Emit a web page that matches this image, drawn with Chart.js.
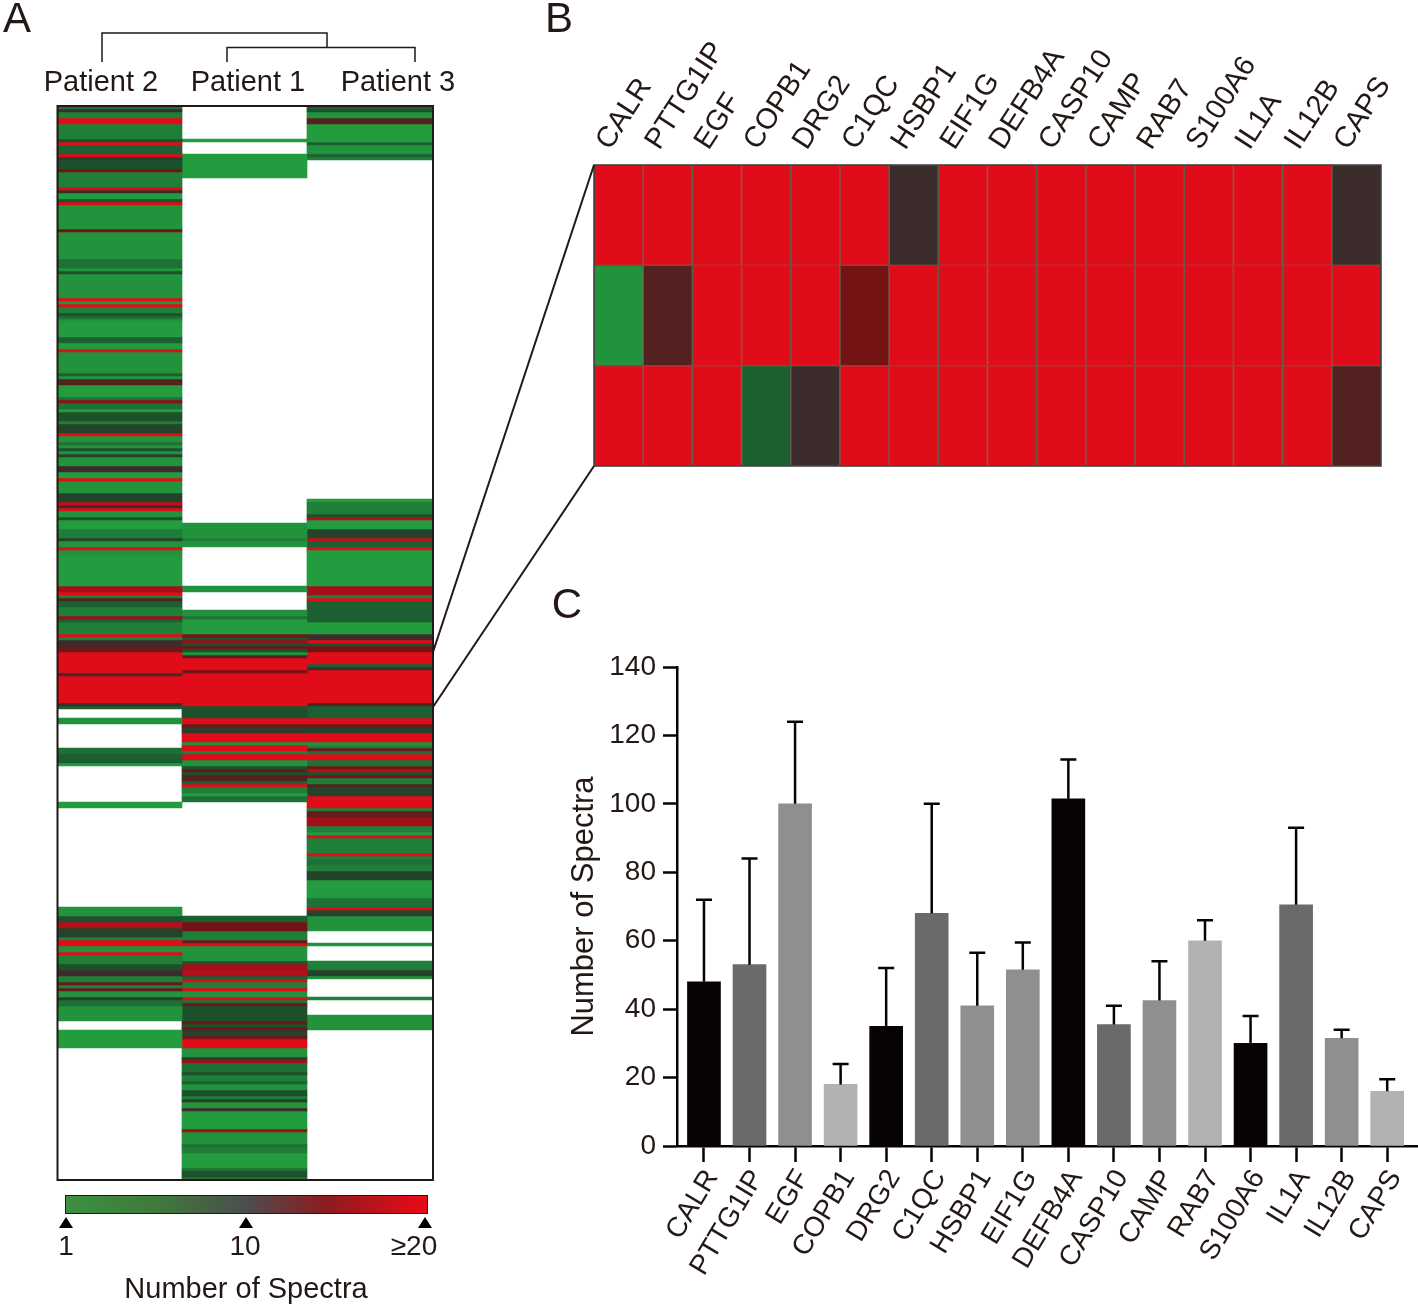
<!DOCTYPE html>
<html>
<head>
<meta charset="utf-8">
<title>Number of Spectra</title>
<script src="https://cdn.jsdelivr.net/npm/chart.js@4"></script>
<style>
  html, body { margin: 0; background: #fff; }
  #page { position: relative; width: 1418px; height: 1306px; overflow: hidden; font-family: "Liberation Sans", Arial, sans-serif; color: #231815; }
  canvas { position: absolute; }
  svg { position: absolute; left: 0; top: 0; pointer-events: none; }
  .txt { position: absolute; white-space: nowrap; transform: translate(-50%, -50%); font-size: 28px; line-height: 1; }
  .letra { font-size: 42px; }
  #barra { position: absolute; left: 65px; top: 1195px; width: 361px; height: 17px; border: 1.5px solid #231815;
    background: linear-gradient(to right, #3c9040, #3f7a3c 25%, #4d4d4d 50%, #8c1c1f 72%, #e30b17 97%, #e30b17); }
</style>
</head>
<body>
<div id="page">
  <canvas id="graficoA" width="375" height="1074" style="left:57px;top:106px"></canvas>
  <canvas id="graficoB" width="858" height="470" style="left:560px;top:0"></canvas>
  <canvas id="graficoC" width="858" height="666" style="left:560px;top:640px"></canvas>

  <svg width="1418" height="1306">
    <g fill="none" stroke="#231815" stroke-width="1.5">
      <polyline points="102,62 102,33 327,33 327,47.5"/>
      <polyline points="227,62 227,47.5 415,47.5 415,62"/>
    </g>
    <rect x="57.5" y="106" width="375.5" height="1074" fill="none" stroke="#231815" stroke-width="2"/>
    <rect x="594" y="165" width="787" height="301" fill="none" stroke="#3a3a3a" stroke-width="1.5"/>
    <g stroke="#231815" stroke-width="2">
      <line x1="433" y1="652" x2="594" y2="165"/>
      <line x1="433" y1="707" x2="594" y2="466"/>
    </g>
    <g fill="#000">
      <polygon points="66,1217 59,1228 73,1228"/>
      <polygon points="246,1217 239,1228 253,1228"/>
      <polygon points="425,1217 418,1228 432,1228"/>
    </g>
  </svg>

  <div class="txt letra" style="left:17px;top:18px">A</div>
  <div class="txt letra" style="left:559px;top:18px">B</div>
  <div class="txt letra" style="left:567px;top:604px">C</div>
  <div class="txt" style="left:101px;top:81px;font-size:29px">Patient 2</div>
  <div class="txt" style="left:248px;top:81px;font-size:29px">Patient 1</div>
  <div class="txt" style="left:398px;top:81px;font-size:29px">Patient 3</div>

  <div id="barra"></div>
  <div class="txt" style="left:66px;top:1246px">1</div>
  <div class="txt" style="left:245px;top:1246px">10</div>
  <div class="txt" style="left:414px;top:1246px">≥20</div>
  <div class="txt" style="left:246px;top:1288px;font-size:29px">Number of Spectra</div>
</div>

<script>
const pacientes = ['Patient 2', 'Patient 1', 'Patient 3']
const genes = ['CALR', 'PTTG1IP', 'EGF', 'COPB1', 'DRG2', 'C1QC', 'HSBP1', 'EIF1G', 'DEFB4A', 'CASP10', 'CAMP', 'RAB7', 'S100A6', 'IL1A', 'IL12B', 'CAPS']

// painel A: cada par e [espectros, numero de linhas seguidas]; 0 = sem deteccao
const totalLinhas = 358
const runsPaciente2 = [[4,1],[9,1],[3,2],[20,2],[3,5],[6,1],[20,1],[5,3],[20,1],[8,1],[6,3],[12,1],[3,5],[20,1],[9,1],[1,2],[6,1],[20,1],[2,8],[12,1],
  [2,9],[4,3],[2,1],[6,1],[2,8],[20,1],[2,1],[20,1],[3,2],[6,1],[4,1],[2,1],[1,5],[5,2],[1,2],[20,1],[2,7],[5,1],[2,1],[10,2],
  [1,4],[4,1],[14,1],[4,2],[1,1],[6,3],[3,1],[7,3],[20,1],[2,2],[4,1],[2,1],[6,1],[2,1],[7,1],[2,3],[9,2],[1,2],[20,1],[2,4],
  [7,3],[18,1],[9,1],[20,1],[2,2],[6,1],[1,3],[3,3],[7,1],[2,2],[20,1],[2,2],[1,10],[16,2],[20,1],[3,1],[10,1],[5,2],[3,3],[15,1],
  [5,1],[3,4],[20,1],[3,1],[9,2],[11,2],[20,7],[9,1],[20,9],[9,1],[5,1],[0,3],[2,2],[0,8],[4,2],[5,3],[1,1],[0,12],[1,2],[0,33],
  [2,3],[6,2],[17,2],[7,3],[3,1],[20,2],[2,2],[20,1],[3,3],[6,2],[9,2],[3,2],[11,1],[3,1],[11,1],[2,2],[8,1],[4,2],[2,5],[0,3],[1,6],[0,44]]
const runsPaciente1 = [[0,11],[1,1],[0,4],[1,8],[0,115],[2,5],[3,1],[2,2],[0,13],[2,2],[0,6],[2,2],[4,1],[1,5],[12,1],[6,1],[15,1],[6,1],[11,1],[6,1],
  [2,1],[10,1],[20,4],[12,1],[20,11],[6,4],[20,2],[11,1],[8,2],[20,3],[2,1],[20,2],[3,1],[20,2],[2,2],[6,1],[11,1],[6,1],[10,2],[5,1],
  [20,1],[3,2],[1,1],[4,2],[0,38],[5,2],[12,3],[3,3],[11,1],[20,1],[2,5],[6,1],[16,2],[17,2],[5,1],[20,1],[3,2],[20,1],[2,2],[20,1],
  [4,1],[11,1],[6,5],[11,1],[6,1],[12,1],[7,2],[13,1],[20,3],[2,3],[8,1],[16,1],[4,3],[6,1],[3,2],[5,1],[2,2],[6,2],[3,1],[8,1],
  [2,2],[9,1],[1,6],[15,1],[2,4],[4,1],[3,2],[1,5],[4,1],[6,2],[4,1]]
const runsPaciente3 = [[5,1],[6,1],[2,2],[10,2],[1,6],[5,1],[2,3],[5,1],[3,1],[0,113],[1,1],[3,4],[6,1],[17,1],[1,3],[7,3],[18,1],[5,2],[20,1],[1,12],
  [16,3],[3,1],[20,1],[5,7],[1,4],[9,2],[20,1],[6,1],[12,2],[20,4],[5,1],[9,1],[20,11],[10,1],[5,4],[20,2],[11,1],[7,2],[20,3],[2,1],
  [3,1],[11,1],[4,1],[20,2],[4,2],[12,1],[17,1],[6,1],[13,1],[3,2],[10,1],[7,3],[20,4],[3,1],[11,2],[16,3],[3,2],[1,1],[20,1],[3,5],
  [20,1],[3,1],[4,2],[3,2],[7,3],[1,6],[4,3],[20,1],[7,2],[2,5],[0,4],[2,1],[0,5],[3,3],[7,2],[2,1],[0,6],[3,1],[0,5],[2,5],[0,50]]

// painel B: uma lista por linha do mapa
const linhaB1 = [20, 20, 20, 20, 20, 20, 9, 20, 20, 20, 20, 20, 20, 20, 20, 9]
const linhaB2 = [2, 10, 20, 20, 20, 12, 20, 20, 20, 20, 20, 20, 20, 20, 20, 20]
const linhaB3 = [20, 20, 20, 5, 9, 20, 20, 20, 20, 20, 20, 20, 20, 20, 20, 10]

// painel C
const medias = [48, 53, 100, 18, 35, 68, 41, 51.5, 101.5, 35.5, 42.5, 60, 30, 70.5, 31.5, 16]
const topoErro = [72, 84, 124, 24, 52, 100, 56.5, 59.5, 113, 41, 54, 66, 38, 93, 34, 19.5]
const coresBarras = ['#070203', '#6a6a6a', '#8f8f8f', '#b2b2b2', '#070203', '#6a6a6a', '#8f8f8f', '#8f8f8f', '#070203', '#6a6a6a', '#8f8f8f', '#b2b2b2', '#070203', '#6a6a6a', '#8f8f8f', '#b2b2b2']

const paleta = [null, '#239b3f', '#22923d', '#1f7f39', '#1e7136', '#1c5f30', '#1d512c', '#24432a', '#2e3a2a', '#3c2d2c', '#522120',
  '#661a1b', '#741313', '#801114', '#8c1117', '#981119', '#a3101a', '#b40f1b', '#c40e1b', '#d20d1a', '#e10c19']

const corTexto = '#231815'
const fonteTicks = { family: '"Liberation Sans", Arial, sans-serif', size: 28 }
const fonteGenes = { family: '"Liberation Sans", Arial, sans-serif', size: 29 }
Chart.defaults.animation = false
Chart.defaults.responsive = false
Chart.defaults.plugins.legend.display = false
Chart.defaults.plugins.tooltip.enabled = false

function datasetsDoPaciente(runs, coluna) {
  const lista = []
  let inicio = 0
  runs.forEach(function(run) {
    const fim = inicio + run[1]
    if (run[0] > 0) {
      const valores = [null, null, null]
      valores[coluna] = [inicio, fim]
      lista.push({ data: valores, backgroundColor: paleta[run[0]], grouped: false, barPercentage: 1, categoryPercentage: 1, borderWidth: 0 })
    }
    inicio = fim
  })
  return lista
}

new Chart(document.getElementById('graficoA'), {
  type: 'bar',
  data: {
    labels: pacientes,
    datasets: [].concat(datasetsDoPaciente(runsPaciente2, 0), datasetsDoPaciente(runsPaciente1, 1), datasetsDoPaciente(runsPaciente3, 2))
  },
  options: {
    scales: {
      x: { display: false },
      y: { display: false, min: 0, max: totalLinhas, reverse: true }
    }
  }
})

function datasetDaLinha(niveis, linha) {
  return {
    data: niveis.map(function() { return [linha, linha + 1] }),
    backgroundColor: niveis.map(function(n) { return paleta[n] }),
    borderColor: 'rgba(70,70,45,0.8)',
    borderWidth: 1,
    borderSkipped: false,
    grouped: false,
    barPercentage: 1,
    categoryPercentage: 1
  }
}

new Chart(document.getElementById('graficoB'), {
  type: 'bar',
  data: {
    labels: genes,
    datasets: [datasetDaLinha(linhaB1, 0), datasetDaLinha(linhaB2, 1), datasetDaLinha(linhaB3, 2)]
  },
  options: {
    layout: { padding: { left: 34, right: 37, bottom: 4, top: 0 } },
    scales: {
      x: {
        position: 'top',
        afterFit: function(escala) { escala.height = 165 },
        border: { display: false },
        grid: { display: false },
        ticks: { autoSkip: false, minRotation: 57, maxRotation: 57, padding: 1, labelOffset: 14, color: corTexto, font: fonteGenes }
      },
      y: { display: false, min: 0, max: 3, reverse: true }
    }
  }
})

const barrasDeErro = {
  id: 'barrasDeErro',
  afterDatasetsDraw: function(chart) {
    const ctx = chart.ctx
    const x = chart.scales.x
    const y = chart.scales.y
    ctx.save()
    ctx.strokeStyle = '#070203'
    ctx.lineWidth = 2.5
    medias.forEach(function(m, i) {
      const px = x.getPixelForValue(i)
      ctx.beginPath()
      ctx.moveTo(px, y.getPixelForValue(m))
      ctx.lineTo(px, y.getPixelForValue(topoErro[i]))
      ctx.moveTo(px - 8, y.getPixelForValue(topoErro[i]))
      ctx.lineTo(px + 8, y.getPixelForValue(topoErro[i]))
      ctx.stroke()
    })
    ctx.restore()
  }
}

new Chart(document.getElementById('graficoC'), {
  type: 'bar',
  data: {
    datasets: [{
      data: medias.map(function(m, i) { return { x: i, y: m } }),
      backgroundColor: coresBarras,
      barThickness: 33
    }]
  },
  options: {
    layout: { padding: { top: 27 } },
    scales: {
      x: {
        type: 'linear',
        min: -0.592,
        max: 15.66,
        offset: false,
        afterFit: function(escala) { escala.height = 160 },
        border: { color: '#070203', width: 2.5 },
        grid: { offset: false, drawOnChartArea: false, tickLength: 16, tickWidth: 2.5, tickColor: '#070203' },
        ticks: {
          stepSize: 1,
          includeBounds: false,
          autoSkip: false,
          minRotation: 59,
          maxRotation: 59,
          padding: 2,
          labelOffset: 8,
          color: corTexto,
          font: fonteTicks,
          callback: function(v) { return genes[v] }
        }
      },
      y: {
        min: 0,
        max: 140,
        afterFit: function(escala) { escala.width = 117 },
        border: { color: '#070203', width: 2.5 },
        grid: { drawOnChartArea: false, tickLength: 14, tickWidth: 2.5, tickColor: '#070203' },
        ticks: { stepSize: 20, padding: 7, color: corTexto, font: fonteTicks },
        title: { display: true, text: 'Number of Spectra', color: corTexto, padding: { top: 6, bottom: 0 }, font: { family: fonteTicks.family, size: 31, weight: 'normal' } }
      }
    }
  },
  plugins: [barrasDeErro]
})
</script>
</body>
</html>
